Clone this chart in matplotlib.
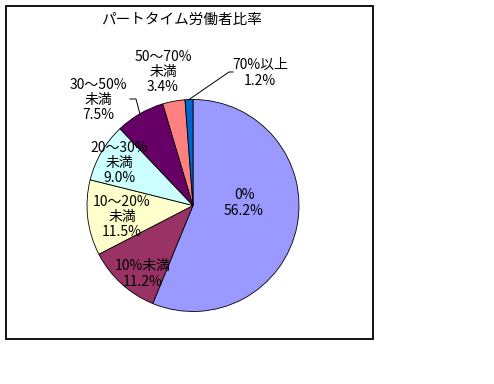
import numpy as np
import matplotlib
matplotlib.use("Agg")
import matplotlib.pyplot as plt
from matplotlib.patches import Rectangle

plt.rcParams['font.family'] = ['Noto Sans CJK JP', 'DejaVu Sans']

# data
categories = ['0%', '10%未満', '10～20%\n未満', '20～30%\n未満', '30～50%\n未満', '50～70%\n未満', '70%以上']
shares = [56.2, 11.2, 11.5, 9.0, 7.5, 3.4, 1.2]
colors = ['#9999FF', '#993366', '#FFFFCC', '#CCFFFF', '#660066', '#FF8080', '#0066CC']
title = 'パートタイム労働者比率'

# layout (pixel coords, y down)
W, H = 494, 384
cx, cy, r = 193, 205.5, 106
label_pos = [(244, 203), (143, 274), (122, 217), (119, 163), (98, 100), (163, 72), (260, 73)]
leaders = {4: [(136, 99), (130, 99)], 6: [(229, 72), (233, 72)]}

fig = plt.figure(figsize=(W / 100, H / 100), dpi=100)
ax = fig.add_axes([0, 0, 1, 1])

# outer chart border
ax.add_patch(Rectangle((5.5, H - 338.5), 367, 333, fill=False, edgecolor='black', lw=1.3))

wedges, _ = ax.pie(shares, colors=colors, startangle=90, counterclock=False,
                   center=(cx, H - cy), radius=r,
                   wedgeprops=dict(edgecolor='black', linewidth=0.6))
ax.set_xlim(0, W)
ax.set_ylim(0, H)
ax.set_aspect('equal')
ax.axis('off')

for i, (lab, val) in enumerate(zip(categories, shares)):
    x, y = label_pos[i]
    ax.text(x, H - y, f'{lab}\n{val:.1f}%', ha='center', va='center',
            fontsize=10, linespacing=1.12)

# leader lines from wedge edge to label
for i, pts in leaders.items():
    w = wedges[i]
    th = np.deg2rad((w.theta1 + w.theta2) / 2)
    x0 = cx + r * np.cos(th)
    y0 = (H - cy) + r * np.sin(th)
    xs = [x0] + [p[0] for p in pts]
    ys = [y0] + [H - p[1] for p in pts]
    ax.plot(xs, ys, color='black', lw=0.7)

ax.text(181, H - 20, title, ha='center', va='center', fontsize=10.5)

fig.savefig('out.png', dpi=100)
